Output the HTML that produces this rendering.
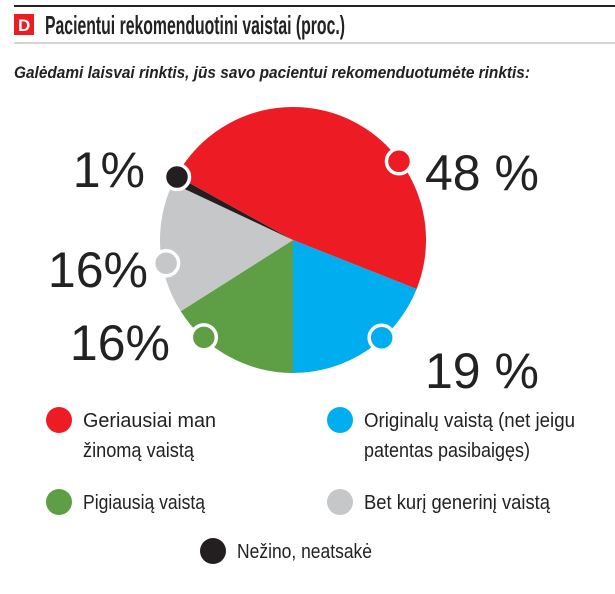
<!DOCTYPE html>
<html><head><meta charset="utf-8"><style>
body{margin:0;background:#fff;width:615px;height:589px;overflow:hidden;font-family:"Liberation Sans",sans-serif;}
</style></head><body>
<svg width="615" height="589" viewBox="0 0 615 589" xmlns="http://www.w3.org/2000/svg">
<line x1="14" y1="6" x2="615" y2="6" stroke="#222" stroke-width="2"/>
<rect x="14" y="14" width="20" height="21" fill="#ed1c24"/>
<text x="18" y="31" font-size="17" font-weight="bold" fill="#fff">D</text>
<text x="45" y="34" font-size="26" font-weight="bold" fill="#222" textLength="300" lengthAdjust="spacingAndGlyphs">Pacientui rekomenduotini vaistai (proc.)</text>
<line x1="14" y1="43" x2="615" y2="43" stroke="#aaa" stroke-width="1"/>
<text x="14" y="78" font-size="17" font-weight="bold" font-style="italic" fill="#222" textLength="516" lengthAdjust="spacingAndGlyphs">Galėdami laisvai rinktis, jūs savo pacientui rekomenduotumėte rinktis:</text>
<g id="pie"></g>
<g id="labels" font-size="50" fill="#222"></g>
<g id="legend" font-size="20" fill="#222"></g>
</svg>
<script>
const categories=["Originalų vaistą (net jeigu patentas pasibaigęs)","Pigiausią vaistą","Bet kurį generinį vaistą","Nežino, neatsakė","Geriausiai man žinomą vaistą"];
const values=[19,16,16,1,48];
const valueLabels=["19 %","16%","16%","1%","48 %"];
const colors=["#00aeef","#5e9e45","#c6c7c9","#231f20","#ed1c24"];
const ns="http://www.w3.org/2000/svg";
const cx=293,cy=240,r=133,startDeg=21.6;
const total=values.reduce((a,b)=>a+b,0);
function pt(deg,rad){const a=deg*Math.PI/180;return [cx+rad*Math.cos(a),cy+rad*Math.sin(a)];}
const pie=document.getElementById('pie');
const markerOffset=[26.2,42.5,22,3.3,114.6];
const slices=[];
let acc=startDeg;
values.forEach((v,i)=>{
  const sweep=v/total*360;const a0=acc,a1=acc+sweep;acc=a1;
  const p0=pt(a0,r),p1=pt(a1,r);
  const path=document.createElementNS(ns,'path');
  path.setAttribute('d',`M${cx},${cy}L${p0[0]},${p0[1]}A${r},${r} 0 ${sweep>180?1:0} 1 ${p1[0]},${p1[1]}Z`);
  path.setAttribute('fill',colors[i]);
  
  
  pie.appendChild(path);
  slices.push({i,a0});
});
slices.forEach(m=>{
  const p=pt(m.a0+markerOffset[m.i],m.i===2?129:132);
  const c=document.createElementNS(ns,'circle');
  c.setAttribute('cx',p[0]);c.setAttribute('cy',p[1]);c.setAttribute('r',12.5);
  c.setAttribute('fill',colors[m.i]);c.setAttribute('stroke','#fff');c.setAttribute('stroke-width','3.5');
  
  
  pie.appendChild(c);
});
const labelPos=[[425,388,'start'],[170,360,'end'],[148,287,'end'],[145,187,'end'],[425,190,'start']];
const lg=document.getElementById('labels');
valueLabels.forEach((t,i)=>{
  const e=document.createElementNS(ns,'text');
  e.setAttribute('x',labelPos[i][0]);e.setAttribute('y',labelPos[i][1]);e.setAttribute('text-anchor',labelPos[i][2]);
  e.textContent=t;
  
  
  lg.appendChild(e);
});
const legOrder=[4,0,1,2,3];
const legPos=[[59,420],[340,420],[59,502],[340,502],[213,551]];
const lines={4:["Geriausiai man","žinomą vaistą"],0:["Originalų vaistą (net jeigu","patentas pasibaigęs)"],1:["Pigiausią vaistą"],2:["Bet kurį generinį vaistą"],3:["Nežino, neatsakė"]};
const widths={4:[133,111],0:[211,166],1:[122],2:[186],3:[135]};
const leg=document.getElementById('legend');
legOrder.forEach((ci,k)=>{
  const [x,y]=legPos[k];
  const c=document.createElementNS(ns,'circle');
  c.setAttribute('cx',x);c.setAttribute('cy',y);c.setAttribute('r',13);c.setAttribute('fill',colors[ci]);
  
  
  leg.appendChild(c);
  lines[ci].forEach((ln,j)=>{
    const t=document.createElementNS(ns,'text');
    t.setAttribute('x',x+24);t.setAttribute('y',y+7+j*30);t.textContent=ln;
    t.setAttribute('textLength',widths[ci][j]);t.setAttribute('lengthAdjust','spacingAndGlyphs');
    
    
    leg.appendChild(t);
  });
});
</script>
</body></html>
